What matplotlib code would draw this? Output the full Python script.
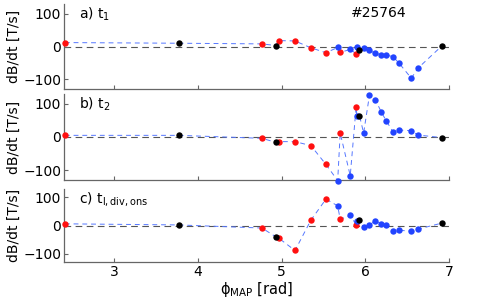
import matplotlib
matplotlib.use("Agg")
import matplotlib.pyplot as plt
import numpy as np

# probe positions (rad) and colours
phi = [2.41, 3.77, 4.765, 4.93, 4.97, 5.16, 5.35, 5.53, 5.67, 5.70, 5.82,
       5.89, 5.90, 5.93, 5.98, 6.05, 6.12, 6.19, 6.25, 6.33, 6.40, 6.55, 6.63, 6.92]
kind = ['r', 'k', 'r', 'k', 'r', 'r', 'r', 'r', 'b', 'r', 'b',
        'r', 'b', 'k', 'b', 'b', 'b', 'b', 'b', 'b', 'b', 'b', 'b', 'k']

val_a = [12, 10, 8, 3, 18, 17, -4, -19, -3, -18, -9,
         -22, -3, -12, -4, -12, -21, -25, -26, -31, -50, -97, -66, 3]
val_b = [5, 5, -4, -16, -14, -14, -26, -83, -132, 12, -117,
         90, 65, 65, 12, 127, 113, 76, 49, 16, 21, 19, 6, -2]
val_c = [6, 2, -9, -40, -46, -89, 19, 94, 70, 22, 36,
         3, 15, 20, -6, 2, 17, 5, 2, -20, -17, -20, -13, 9]

labels = [r'a) t$_\mathrm{1}$', r'b) t$_\mathrm{2}$', r'c) t$_\mathrm{l,div,ons}$']
shot = '#25764'
yticks = [-100, 0, 100]
xticks = [3, 4, 5, 6, 7]

cmap = {'r': '#ff1010', 'b': '#2244ff', 'k': '#000000'}
W, H = 497, 305
fig = plt.figure(figsize=(W / 100, H / 100), dpi=100)
plt.rcParams['font.family'] = ['DejaVu Sans']
plt.rcParams['mathtext.default'] = 'regular'

boxes = [(4, 89), (94, 180), (189, 262)]
left, right = 64 / W, 449 / W
phi_a = np.array(phi)
for i, (vals, lab, (t, b)) in enumerate(zip([val_a, val_b, val_c], labels, boxes)):
    ax = fig.add_axes([left, 1 - b / H, right - left, (b - t) / H])
    ax.set_xlim(2.4, 7.0)
    ax.set_ylim(-130, 130)
    ax.axhline(0, color='#555555', ls=(0, (6, 4)), lw=0.8, zorder=1)
    v = np.array(vals)
    ax.plot(phi_a, v, color='#5577ff', ls=(0, (5, 4)), lw=0.7, zorder=2)
    for c in ['r', 'b', 'k']:
        idx = [j for j, k in enumerate(kind) if k == c]
        ax.plot(phi_a[idx], v[idx], 'o', color=cmap[c], ms=4.6, mew=0,
                ls='none', zorder=3 + ['r', 'b', 'k'].index(c),
                clip_on=False)
    for s in ['top', 'right']:
        ax.spines[s].set_visible(False)
    for s in ['left', 'bottom']:
        ax.spines[s].set_color('#666666')
        ax.spines[s].set_linewidth(0.9)
    ax.set_yticks(yticks)
    ax.set_xticks(xticks)
    ax.tick_params(direction='in', length=3, color='#666666', labelsize=10,
                   pad=2)
    if i < 2:
        ax.set_xticklabels([])
    else:
        ax.set_xlabel(r'$\phi_{MAP}$ [rad]', fontsize=10.5, labelpad=1)
    ax.set_ylabel('dB/dt [T/s]', fontsize=10, labelpad=2)
    ax.text(2.58, 125, lab, fontsize=10, va='top', ha='left')
    if i == 0:
        ax.text(5.83, 125, shot, fontsize=10, va='top', ha='left')

fig.savefig('out.png', dpi=100)
